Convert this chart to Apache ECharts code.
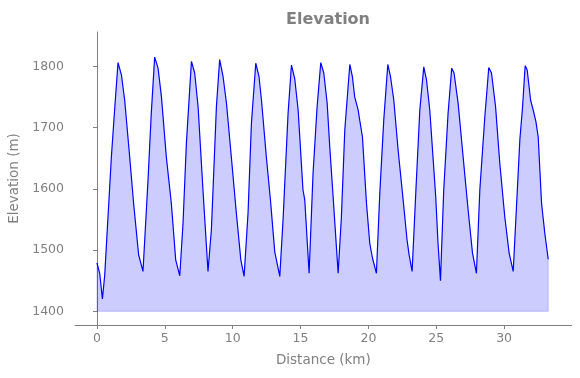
<!DOCTYPE html>
<html>
<head>
<meta charset="utf-8">
<script src="https://cdn.jsdelivr.net/npm/echarts@6/dist/echarts.min.js"></script>
<style>html,body{margin:0;padding:0;background:#fff;}#c{width:580px;height:378px;}</style>
</head>
<body>
<div id="c"></div>
<script>
const distance = [0,0.2,0.4,0.57,0.69,1.06,1.3,1.55,1.8,2.04,
2.41,2.7,3.07,3.2,3.39,3.76,4.0,4.25,4.5,4.75,
5.11,5.48,5.8,6.1,6.34,6.59,6.96,7.2,7.45,7.81,
8.18,8.43,8.8,9.04,9.29,9.54,9.9,10.27,10.6,10.84,
11.13,11.38,11.7,11.94,12.12,12.48,12.78,13.1,13.47,13.71,
14.08,14.33,14.57,14.82,15.18,15.31,15.63,15.92,16.22,16.49,
16.71,16.96,17.15,17.4,17.77,18.01,18.26,18.63,18.82,18.99,
19.24,19.36,19.56,19.86,20.1,20.3,20.59,20.84,21.13,21.43,
21.63,21.87,22.19,22.51,22.85,23.0,23.22,23.49,23.79,24.08,
24.28,24.52,24.76,24.96,25.13,25.31,25.55,25.87,26.14,26.31,
26.61,26.98,27.35,27.67,27.96,28.21,28.58,28.87,29.07,29.37,
29.68,30.05,30.37,30.67,31.16,31.36,31.55,31.7,31.95,32.14,
32.34,32.51,32.76,33.0,33.25];
const elevation = [1479,1462,1420,1459,1459,1652,1729,1806,1786,1745,
1652,1576,1492,1489,1465,1614,1723,1815,1797,1750,
1652,1576,1484,1458,1544,1675,1808,1789,1734,1598,
1465,1533,1734,1811,1783,1740,1652,1560,1484,1457,
1560,1707,1805,1783,1745,1652,1582,1497,1457,1549,
1723,1802,1780,1729,1598,1582,1462,1625,1734,1806,
1789,1740,1669,1587,1462,1554,1696,1803,1783,1750,
1729,1712,1685,1576,1511,1487,1462,1593,1712,1803,
1783,1745,1663,1593,1516,1492,1465,1593,1729,1799,
1778,1729,1652,1587,1511,1450,1598,1723,1797,1789,
1740,1652,1565,1495,1462,1598,1718,1798,1789,1734,
1642,1554,1495,1465,1680,1734,1801,1794,1745,1729,
1710,1685,1576,1527,1485];
const baseline = 1400;
const xTicks = [0,5,10,15,20,25,30];
const yTicks = [1400,1500,1600,1700,1800];

const pts = distance.map((d,i)=>[d, elevation[i]]);
const last = distance.length - 1;
const outline = [[distance[0], elevation[0]],[distance[0], baseline],[distance[last], baseline],[distance[last], elevation[last]]];

const gray = '#808080';
const font = 'DejaVu Sans';
const chart = echarts.init(document.getElementById('c'), null, {renderer:'canvas'});
chart.setOption({
  animation:false,
  backgroundColor:'#fff',
  title:{text:'Elevation', left:323, top:7, textAlign:'center',
    textStyle:{color:gray, fontFamily:font, fontWeight:'bold', fontSize:16}},
  grid:{left:75, right:8.3, top:32, bottom:53, outerBoundsMode:'none', containLabel:false},
  xAxis:{type:'value', min:-1.62, max:34.98,
    name:'Distance (km)', nameLocation:'middle', nameGap:28,
    nameTextStyle:{color:gray, fontFamily:font, fontSize:13.5},
    axisLine:{show:true, lineStyle:{color:gray, width:1}},
    axisTick:{show:true, length:4, lineStyle:{color:gray}, customValues:xTicks},
    axisLabel:{color:gray, fontFamily:font, fontSize:12.5, margin:7, customValues:xTicks,
      formatter:v=>String(v)},
    splitLine:{show:false}},
  yAxis:{type:'value', min:1377.6, max:1856,
    name:'Elevation (m)', nameLocation:'middle', nameGap:53,
    nameTextStyle:{color:gray, fontFamily:font, fontSize:13.5},
    axisLine:{show:true, lineStyle:{color:gray, width:1}},
    axisTick:{show:true, length:4, lineStyle:{color:gray}, customValues:yTicks},
    axisLabel:{color:gray, fontFamily:font, fontSize:12.5, margin:11, customValues:yTicks,
      formatter:v=>String(v)},
    splitLine:{show:false}},
  series:[
    {type:'line', data:outline, symbol:'none', silent:true,
      lineStyle:{color:'rgba(0,0,255,0.2)', width:1}, z:1},
    {type:'line', data:pts, symbol:'none', smooth:false,
      lineStyle:{color:'#0000ff', width:1.2},
      areaStyle:{color:'rgba(0,0,255,0.2)', origin:baseline, opacity:1}, z:2}
  ]
});
</script>
</body>
</html>
